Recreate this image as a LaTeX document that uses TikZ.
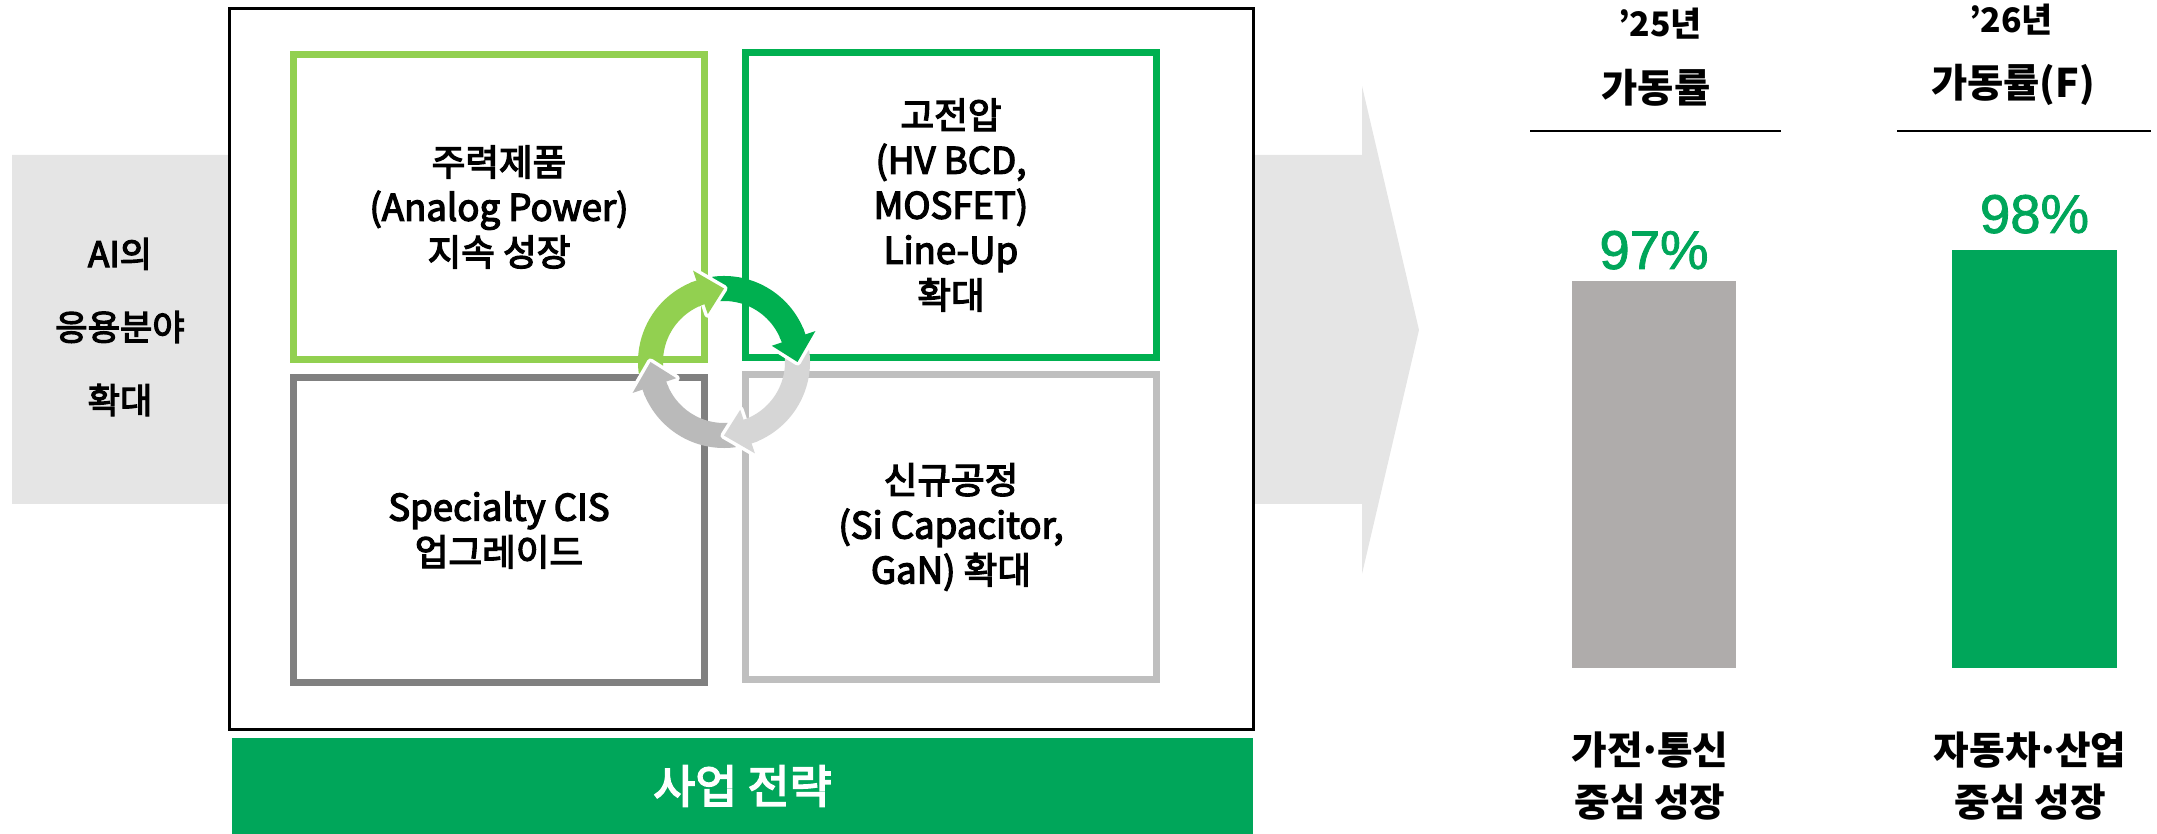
\documentclass[tikz,border=0pt]{standalone}
\usepackage{fontspec}
\setmainfont{Noto Sans CJK KR}
\newfontfamily\medfont{Noto Sans CJK KR}[FakeBold=3.5]
\newfontfamily\pctfont{Liberation Sans}[FakeBold=1.5]
\usetikzlibrary{positioning,arrows.meta,calc}

\definecolor{leafgreen}{HTML}{92D050}
\definecolor{mygreen}{HTML}{00B050}
\definecolor{bargreen}{HTML}{00A65A}
\definecolor{bandgray}{HTML}{E5E5E5}
\definecolor{midgray}{HTML}{808080}
\definecolor{softgray}{HTML}{BFBFBF}
\definecolor{bargray}{HTML}{AFACAB}
\definecolor{arcgray}{HTML}{BABABA}
\definecolor{arclight}{HTML}{D6D6D6}

\tikzset{
  quad/.style={draw, line width=2pt, minimum width=4.1cm, minimum height=3.04cm, align=center, inner sep=0pt},
  yearlab/.style={font=\bfseries\fontsize{9.6}{11}\selectfont, inner sep=0pt},
  ratelab/.style={font=\bfseries\fontsize{11.2}{13}\selectfont, inner sep=0pt},
  pct/.style={font=\pctfont\fontsize{15.5}{18}\selectfont, text=bargreen, inner sep=0pt},
  caption/.style={align=center, font=\bfseries\fontsize{11}{15}\selectfont, inner sep=0pt},
  bar/.style={minimum width=1.64cm, inner sep=0pt}
}

\begin{document}
\begin{tikzpicture}[x=0.01cm, y=-0.01cm, font=\medfont\fontsize{10.4}{12.8}\selectfont]
  \useasboundingbox (0,0) rectangle (2157,834);

  % Background arrow
  \fill[bandgray] (12,155) -- (1362,155) -- (1362,86) -- (1419,330) -- (1362,574) -- (1362,504) -- (12,504) -- cycle;
  \node[align=center, font=\medfont\fontsize{10}{20.8}\selectfont] (aiuse) at (120,327) {AI의\\응용분야\\확대};

  % Strategy frame and quadrants
  \node[draw, line width=0.8pt, fill=white, minimum width=10.23cm, minimum height=7.2cm] (frame) at (741.5,369) {};
  \node[quad, draw=leafgreen] (mainprod) at (499,207) {주력제품\\(Analog Power)\\지속 성장};
  \node[quad, draw=mygreen] (highvolt) at (951,205) {고전압\\(HV BCD,\\MOSFET)\\Line-Up\\확대};
  \node[quad, draw=midgray] (cis) at (499,530) {Specialty CIS\\업그레이드};
  \node[quad, draw=softgray] (newproc) at (951,527) {신규공정\\(Si Capacitor,\\GaN) 확대};

  % Strategy bar
  \node[fill=bargreen, text=white, minimum width=10.21cm, minimum height=0.96cm, font=\medfont\fontsize{13}{15}\selectfont] (strategy) at (742.5,786) {사업 전략};

  % Cycle arrows
  \begin{scope}[shift={(724,362)}, y=0.01cm]
    \foreach \col/\tail/\bodyend in {leafgreen/188/107.7, mygreen/98/17.7, arclight/8/-72.3, arcgray/-82/-162.3}
      \draw[\col, line width=0.25cm] (\tail:73.5) arc[start angle=\tail, end angle=\bodyend, radius=73.5];
    \foreach \base/\tip in {108.7/90, 18.7/0, -71.3/-90, -161.3/-180}
      \filldraw[white, line width=0.07cm, line join=round] (\base:50.5) -- (\base:96.5) -- (\tip:73.5) -- cycle;
    \foreach \col/\patch/\bodyend/\base/\tip in {leafgreen/113.7/107.7/108.7/90, mygreen/23.7/17.7/18.7/0, arclight/-66.3/-72.3/-71.3/-90, arcgray/-156.3/-162.3/-161.3/-180}
    {
      \draw[\col, line width=0.25cm] (\patch:73.5) arc[start angle=\patch, end angle=\bodyend, radius=73.5];
      \fill[\col] (\base:50.5) -- (\base:96.5) -- (\tip:73.5) -- cycle;
    }
  \end{scope}

  % Utilization bars
  \node[bar, fill=bargray, minimum height=3.87cm] (bar25) at (1654,474.5) {};
  \node[bar, fill=bargreen, minimum height=4.18cm] (bar26) at (2034.5,459) {};
  \node[pct, above=0.1cm of bar25] (pct25) {97\%};
  \node[pct, above=0.15cm of bar26] (pct26) {98\%};

  % Headers
  \node[yearlab] (year25) at (1660,24) {’25년};
  \node[ratelab] (rate25) at (1656,88) {가동률};
  \node[yearlab] (year26) at (2011,20) {’26년};
  \node[ratelab] (rate26) at (2013,85) {가동률(F)};
  \draw[line width=0.6pt] (1530,131) -- (1781,131);
  \draw[line width=0.6pt] (1897,131) -- (2151,131);

  % Captions
  \node[caption] (cap25) at (1650,776) {가전\kern-0.12em·\kern-0.12em통신\\중심 성장};
  \node[caption] (cap26) at (2030,776) {자동차\kern-0.12em·\kern-0.12em산업\\중심 성장};
\end{tikzpicture}
\end{document}
